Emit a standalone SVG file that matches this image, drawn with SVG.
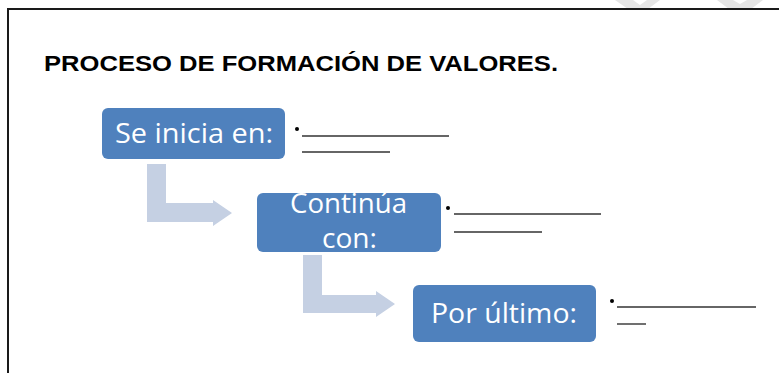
<svg xmlns="http://www.w3.org/2000/svg" width="779" height="373" viewBox="0 0 779 373">
<style>
.box{fill:#4F81BD;}
.lbl{font-family:"Open Sans","Noto Sans",sans-serif;font-size:28px;fill:#FFFFFF;}
.lbl2{font-family:"Open Sans","Noto Sans",sans-serif;font-size:27px;fill:#FFFFFF;}
.arrow{fill:#C5D0E3;}
.blank{stroke:#333333;stroke-width:1.4;fill:none;}
.dot{fill:#000000;}
.title{font-family:"Liberation Sans",Arial,sans-serif;font-weight:bold;font-size:22.5px;fill:#000000;}
</style>
<rect x="0" y="0" width="779" height="373" fill="#FFFFFF"/>
<g id="watermark" fill="#E6E6E6">
<polygon points="615,0 633,0 640,5 647,0 660,0 648,9 628,9"/>
<polygon points="717,0 733,0 740,4 747,0 763,0 751,9 729,9"/>
</g>
<path d="M8,373 V9 H779" fill="none" stroke="#1A1A1A" stroke-width="2"/>
<text class="title" x="44" y="70.5" textLength="514" lengthAdjust="spacingAndGlyphs">PROCESO DE FORMACIÓN DE VALORES.</text>
<g id="connectors">
<path class="arrow" d="M147,164 H166 V203 H213 V200 L232,213 L213,226 V222 H147 Z"/>
<path class="arrow" d="M303,255 H322 V295 H376 V291 L395,304 L376,317 V313 H303 Z"/>
</g>
<g id="node1">
<rect class="box" x="102" y="108" width="183" height="51" rx="6"/>
<text class="lbl" x="115" y="143" textLength="158" lengthAdjust="spacingAndGlyphs">Se inicia en:</text>
</g>
<g id="blank1">
<circle class="dot" cx="297" cy="129" r="2"/>
<line class="blank" x1="302" y1="136" x2="449" y2="136"/>
<line class="blank" x1="302" y1="152" x2="390" y2="152"/>
</g>
<g id="node2">
<rect class="box" x="257" y="193" width="184" height="59" rx="6"/>
<text class="lbl2" x="290" y="213" textLength="117" lengthAdjust="spacingAndGlyphs">Continúa</text>
<text class="lbl2" x="322" y="248" textLength="55" lengthAdjust="spacingAndGlyphs">con:</text>
</g>
<g id="blank2">
<circle class="dot" cx="448" cy="208" r="2"/>
<line class="blank" x1="454" y1="214" x2="601" y2="214"/>
<line class="blank" x1="454" y1="232" x2="542" y2="232"/>
</g>
<g id="node3">
<rect class="box" x="413" y="285" width="183" height="57" rx="6"/>
<text class="lbl" x="431" y="323" textLength="146" lengthAdjust="spacingAndGlyphs">Por último:</text>
</g>
<g id="blank3">
<circle class="dot" cx="612" cy="301" r="2"/>
<line class="blank" x1="617" y1="307" x2="756" y2="307"/>
<line class="blank" x1="617" y1="324" x2="646" y2="324"/>
</g>
</svg>
